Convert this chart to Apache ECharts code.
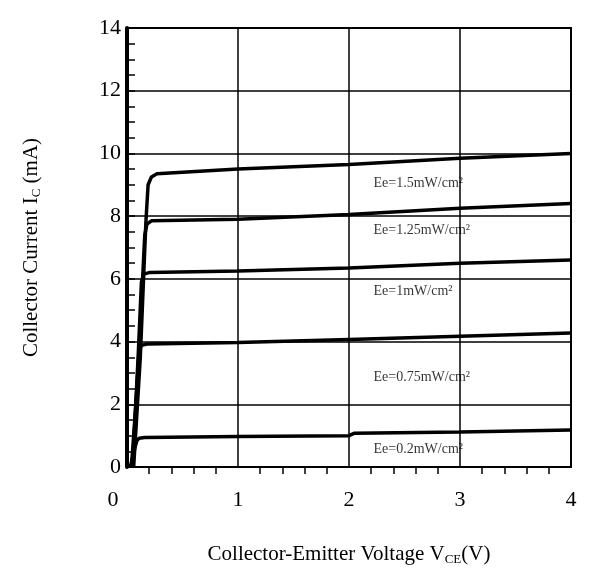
<!DOCTYPE html>
<html>
<head>
<meta charset="utf-8">
<script src="https://cdn.jsdelivr.net/npm/echarts@6/dist/echarts.min.js"></script>
<style>
  html, body { margin: 0; padding: 0; background: #fff; }
  #chart { width: 590px; height: 581px; }
</style>
</head>
<body>
<div id="chart"></div>
<script>
// Phototransistor output characteristics: Ic vs Vce for several irradiances
const irradianceLabels = ['Ee=1.5mW/cm²', 'Ee=1.25mW/cm²', 'Ee=1mW/cm²', 'Ee=0.75mW/cm²', 'Ee=0.2mW/cm²'];

const vce1 = [0.06, 0.12, 0.17, 0.19, 0.22, 0.27, 1.0, 2.0, 3.0, 4.0];
const ic1  = [0.0, 3.5, 7.8, 9.0, 9.25, 9.35, 9.5, 9.65, 9.85, 10.0];

const vce2 = [0.05, 0.12, 0.16, 0.18, 0.22, 1.0, 2.0, 3.0, 4.0];
const ic2  = [0.0, 4.5, 7.4, 7.75, 7.85, 7.9, 8.05, 8.25, 8.4];

const vce3 = [0.05, 0.1, 0.13, 0.15, 0.2, 1.0, 2.0, 3.0, 4.0];
const ic3  = [0.0, 3.5, 5.9, 6.15, 6.2, 6.25, 6.35, 6.5, 6.6];

const vce4 = [0.04, 0.09, 0.11, 0.13, 0.18, 1.0, 2.0, 3.0, 4.0];
const ic4  = [0.0, 2.5, 3.7, 3.88, 3.92, 3.97, 4.07, 4.17, 4.27];

const vce5 = [0.03, 0.07, 0.09, 0.11, 0.16, 1.0, 2.0, 2.05, 3.0, 4.0];
const ic5  = [0.0, 0.6, 0.85, 0.92, 0.94, 0.97, 1.0, 1.08, 1.12, 1.18];

// where each irradiance caption sits (V, mA)
const captionV = [2.23, 2.23, 2.23, 2.23, 2.23];
const captionI = [9.05, 7.55, 5.6, 2.85, 0.55];

const xTicks = [0, 1, 2, 3, 4];
const yTicks = [0, 2, 4, 6, 8, 10, 12, 14];

const curves = [[vce1, ic1], [vce2, ic2], [vce3, ic3], [vce4, ic4], [vce5, ic5]];

const serif = '"Liberation Serif", "DejaVu Serif", serif';

const series = curves.map(([v, i], k) => ({
  type: 'line',
  name: irradianceLabels[k],
  data: v.map((x, j) => [x, i[j]]),
  showSymbol: false,
  lineStyle: { color: '#000', width: 3.5 },
  z: 5
}));

series.push({
  type: 'scatter',
  data: captionV.map((x, k) => [x, captionI[k], irradianceLabels[k]]),
  symbolSize: 0,
  label: {
    show: true,
    position: 'right',
    offset: [-6, 0],
    formatter: p => p.data[2],
    fontFamily: serif,
    fontSize: 14,
    color: '#000'
  },
  z: 6
});

const chart = echarts.init(document.getElementById('chart'), null, { renderer: 'canvas' });
chart.setOption({
  animation: false,
  backgroundColor: '#fff',
  grid: { left: 127, right: 19, top: 28, bottom: 114, show: true, borderColor: '#000', borderWidth: 2 },
  xAxis: {
    type: 'value',
    min: xTicks[0],
    max: xTicks[xTicks.length - 1],
    interval: 1,
    name: 'Collector-Emitter Voltage V{s|CE}(V)',
    nameLocation: 'middle',
    nameGap: 76,
    nameTextStyle: {
      fontFamily: serif, fontSize: 21, color: '#000',
      rich: { s: { fontFamily: serif, fontSize: 13, verticalAlign: 'bottom', padding: [10, 0, 0, 0] } }
    },
    axisLine: { lineStyle: { color: '#000', width: 2 } },
    axisTick: { show: false },
    minorTick: { show: true, splitNumber: 5, length: 7, lineStyle: { color: '#000', width: 1.5 } },
    axisLabel: {
      margin: 22,
      fontFamily: serif,
      fontSize: 22,
      color: '#000',
      formatter: v => (v === 0 ? '{z|0}' : String(v)),
      rich: { z: { fontFamily: serif, fontSize: 22, color: '#000', padding: [0, 28, 0, 0] } }
    },
    splitLine: { show: true, lineStyle: { color: '#000', width: 1.5 } }
  },
  yAxis: {
    type: 'value',
    min: yTicks[0],
    max: yTicks[yTicks.length - 1],
    interval: 2,
    name: 'Collector Current I{s|C} (mA)',
    nameLocation: 'middle',
    nameGap: 84,
    nameRotate: 90,
    nameTextStyle: {
      fontFamily: serif, fontSize: 21, color: '#000',
      rich: { s: { fontFamily: serif, fontSize: 13, verticalAlign: 'bottom', padding: [10, 0, 0, 0] } }
    },
    axisLine: { lineStyle: { color: '#000', width: 4 } },
    axisTick: { inside: true, length: 8, lineStyle: { color: '#000', width: 1.5 } },
    minorTick: { show: true, splitNumber: 4, length: 8, lineStyle: { color: '#000', width: 1.5 } },
    axisLabel: { margin: 6, fontFamily: serif, fontSize: 22, color: '#000' },
    splitLine: { show: true, lineStyle: { color: '#000', width: 1.5 } }
  },
  series
});
</script>
</body>
</html>
